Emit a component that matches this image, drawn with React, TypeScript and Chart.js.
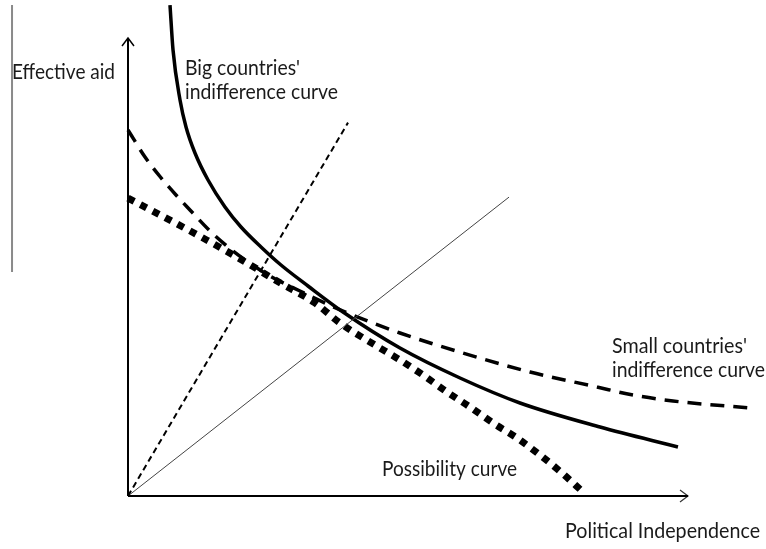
import React, { useEffect, useRef } from "react";
import { Chart, registerables } from "chart.js";

Chart.register(...registerables);

// Data coordinates: x = political independence, y = effective aid (0..100 on each axis)
const bigX = [7.5, 8.04, 9.29, 10.36, 11.96, 14.29, 17.32, 20.18, 23.75, 27.32, 32.14, 38.39, 48.57, 59.29, 70.0, 84.29, 98.21];
const bigY = [100.2, 91.02, 80.82, 75.31, 70.0, 64.49, 58.98, 54.9, 50.82, 47.14, 42.86, 37.55, 30.2, 24.08, 18.98, 14.08, 10.0];

const smallX = [0, 3.04, 5.71, 8.57, 11.07, 14.82, 17.86, 21.43, 25.36, 30.71, 37.86, 48.57, 59.82, 71.79, 83.75, 90.18, 97.32, 111.07];
const smallY = [74.69, 69.18, 65.2, 61.43, 58.37, 53.88, 50.82, 47.76, 44.9, 41.84, 38.0, 33.27, 29.18, 25.31, 22.24, 20.61, 19.39, 17.96];

const possX = [0, 7.5, 14.11, 20.89, 27.14, 33.39, 37.86, 44.11, 48.57, 52.68, 56.96, 61.07, 65.18, 69.46, 73.57, 77.5, 81.25];
const possY = [60.8, 56.3, 52.2, 47.8, 43.5, 39.4, 35.3, 30.8, 27.76, 24.69, 21.22, 18.16, 14.9, 11.84, 8.37, 4.69, 0.82];

const rayBigX = [0, 39.29];
const rayBigY = [0, 76.2];
const raySmallX = [0, 68.04];
const raySmallY = [0, 61.0];

const yAxisX = [0, 0];
const yAxisY = [0, 93.47];
const xAxisX = [0, 100];
const xAxisY = [0, 0];
const yArrowX = [-1.07, 0, 1.07];
const yArrowY = [91.84, 93.47, 91.84];
const xArrowX = [98.57, 100, 98.57];
const xArrowY = [1.22, 0, -1.22];

const sideLineX = [-20.71, -20.71];
const sideLineY = [100.2, 45.7];

const labels = [
  { text: "Effective aid", x: -20.71, y: 85.1, w: 103 },
  { text: "Big countries'", x: 10.18, y: 85.92, w: 115 },
  { text: "indifference curve", x: 10.18, y: 81.02, w: 153 },
  { text: "Small countries'", x: 86.43, y: 29.18, w: 135 },
  { text: "indifference curve", x: 86.43, y: 24.29, w: 153 },
  { text: "Possibility curve", x: 45.36, y: 4.08, w: 135 },
  { text: "Political Independence", x: 78.04, y: -8.57, w: 195 },
];

const toPts = (xs: number[], ys: number[]) => xs.map((x, i) => ({ x, y: ys[i] }));

const labelPlugin = {
  id: "labelPlugin",
  afterDatasetsDraw(chart: any) {
    const ctx = chart.ctx as CanvasRenderingContext2D;
    const xs = chart.scales.x;
    const ys = chart.scales.y;
    ctx.save();
    ctx.fillStyle = "#1a1a1a";
    ctx.textBaseline = "alphabetic";
    ctx.textAlign = "left";
    ctx.font = "21.5px Lato";
    for (const l of labels) {
      const m = ctx.measureText(l.text).width;
      const sx = l.w / m;
      const px = xs.getPixelForValue(l.x);
      const py = ys.getPixelForValue(l.y);
      ctx.save();
      ctx.translate(px, py);
      ctx.scale(sx, 1);
      ctx.fillText(l.text, 0, 0);
      ctx.restore();
    }
    ctx.restore();
  },
};

export default function App() {
  const ref = useRef<HTMLCanvasElement | null>(null);
  useEffect(() => {
    if (!ref.current) return;
    const base = { showLine: true, pointRadius: 0, fill: false, borderColor: "#000", clip: false as any };
    const chart = new Chart(ref.current, {
      type: "scatter",
      data: {
        datasets: [
          { ...base, data: toPts(sideLineX, sideLineY), borderColor: "#8a8a8a", borderWidth: 2 },
          { ...base, data: toPts(yAxisX, yAxisY), borderWidth: 2 },
          { ...base, data: toPts(xAxisX, xAxisY), borderWidth: 2 },
          { ...base, data: toPts(yArrowX, yArrowY), borderWidth: 1.5 },
          { ...base, data: toPts(xArrowX, xArrowY), borderWidth: 1.2, borderColor: "#333" },
          { ...base, data: toPts(rayBigX, rayBigY), borderWidth: 2, borderDash: [6, 4] },
          { ...base, data: toPts(raySmallX, raySmallY), borderWidth: 1, borderColor: "#444" },
          { ...base, data: toPts(smallX, smallY), borderWidth: 3.5, borderDash: [14, 9], cubicInterpolationMode: "monotone" },
          { ...base, data: toPts(bigX, bigY), borderWidth: 3.5, cubicInterpolationMode: "monotone" },
          { ...base, data: toPts(possX, possY), borderWidth: 7, borderDash: [7, 7], borderCapStyle: "butt", cubicInterpolationMode: "monotone" },
        ] as any,
      },
      options: {
        animation: false,
        responsive: false,
        devicePixelRatio: 1,
        layout: { padding: 0 },
        plugins: { legend: { display: false }, tooltip: { enabled: false } },
        scales: {
          x: { type: "linear", display: false, min: -128 / 5.6, max: 638 / 5.6 },
          y: { type: "linear", display: false, min: -53 / 4.9, max: 496 / 4.9 },
        },
      },
      plugins: [labelPlugin],
    });
    return () => chart.destroy();
  }, []);
  return (
    <div style={{ position: "absolute", left: 0, top: 0, width: 766, height: 549, background: "#fff" }}>
      <canvas ref={ref} width={766} height={549} />
    </div>
  );
}
